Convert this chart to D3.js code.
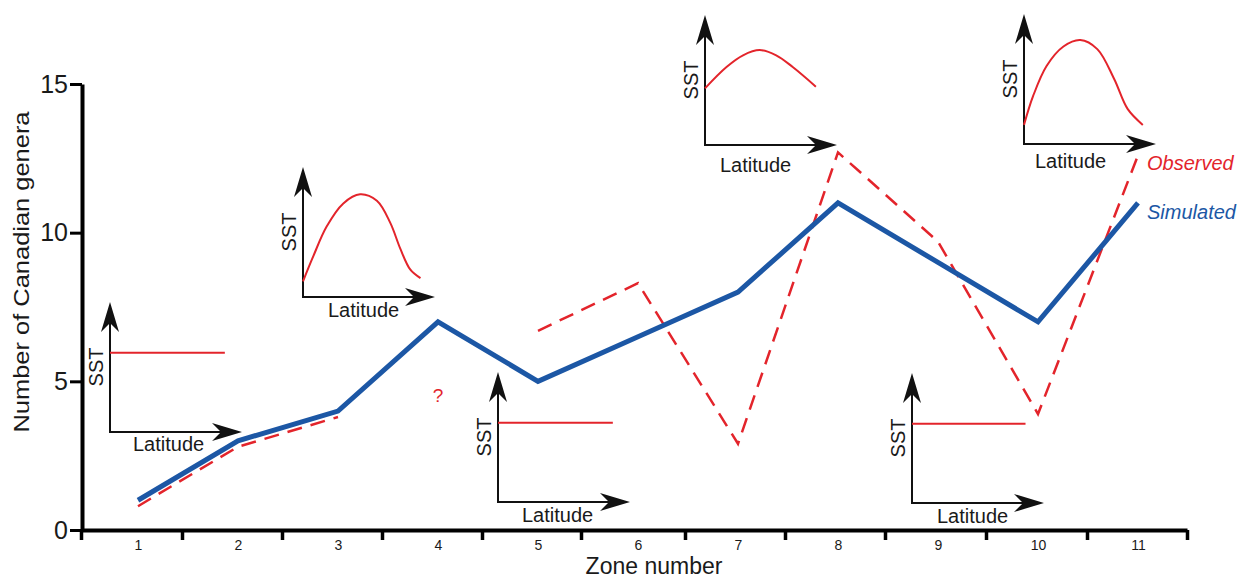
<!DOCTYPE html>
<html>
<head>
<meta charset="utf-8">
<script src="https://cdn.jsdelivr.net/npm/d3@7"></script>
<style>
body { margin: 0; background: #fff; }
text { font-family: "Liberation Sans", Arial, sans-serif; fill: #1a1a1a; }
</style>
</head>
<body>
<svg id="chart" width="1243" height="579"></svg>
<script>
// data
const zones = [1, 2, 3, 4, 5, 6, 7, 8, 9, 10, 11];
const simulated = [1, 3, 4, 7, 5, 6.5, 8, 11, 9, 7, 11];
const observed = [0.8, 2.8, 3.8, null, 6.7, 8.3, 2.9, 12.7, 9.7, 3.9, 12.6];
const yTicks = [0, 5, 10, 15];
// zone boundary ticks, as drawn (not quite evenly spaced)
const zoneEdges = [0.43, 1.44, 2.44, 3.44, 4.44, 5.43, 6.47, 7.47, 8.47, 9.48, 10.49, 11.49];

// SST-vs-latitude sketch profiles: [fraction along latitude, fraction of SST height]
const flatProfile = [[0, 0.61], [1, 0.61]];
const tallBell = [[0, 0.12], [0.086, 0.31], [0.2, 0.54], [0.343, 0.72], [0.486, 0.79], [0.629, 0.74], [0.743, 0.57], [0.829, 0.37], [0.914, 0.21], [1, 0.145]];
const lowHump = [[0, 0.436], [0.194, 0.6], [0.343, 0.69], [0.493, 0.73], [0.642, 0.69], [0.791, 0.6], [1, 0.449]];
const tallBell2 = [[0, 0.147], [0.077, 0.37], [0.19, 0.6], [0.332, 0.75], [0.474, 0.8], [0.617, 0.73], [0.759, 0.5], [0.872, 0.27], [1, 0.147]];

const insets = [
  { ox: 110, oy: 432, profile: flatProfile, span: 0.87, latDx: 23, latDy: 19 },
  { ox: 303, oy: 297, profile: tallBell, span: 0.89, latDx: 25, latDy: 20 },
  { ox: 498, oy: 502, profile: flatProfile, span: 0.87, latDx: 24, latDy: 20 },
  { ox: 705, oy: 145, profile: lowHump, span: 0.84, latDx: 15, latDy: 27 },
  { ox: 912, oy: 503, profile: flatProfile, span: 0.86, latDx: 25, latDy: 20 },
  { ox: 1024, oy: 144, profile: tallBell2, span: 0.9, latDx: 11, latDy: 24 }
];

const red = "#e3242b", blue = "#1c57a5";
const svg = d3.select("#chart");
svg.append("rect").attr("width", 1243).attr("height", 579).attr("fill", "#fff");

const x = d3.scaleLinear().domain([0.43, 11.49]).range([81, 1187]);
const y = d3.scaleLinear().domain([0, 15]).range([530, 84]);

// insets first so the data lines sit on top
const iw = 132, ih = 130, aL = 30, aW = 9, aN = 9;
insets.forEach(inset => {
  const g = svg.append("g").attr("transform", `translate(${inset.ox},${inset.oy})`);
  g.append("path")
    .attr("d", `M0,${-ih + aL - aN}V0H${iw - aL + aN}`)
    .attr("fill", "none").attr("stroke", "#111").attr("stroke-width", 2);
  g.append("path")
    .attr("d", `M0,${-ih}L${-aW},${-ih + aL}L0,${-ih + aL - aN}L${aW},${-ih + aL}Z`)
    .attr("fill", "#111");
  g.append("path")
    .attr("d", `M${iw},0L${iw - aL},${-aW}L${iw - aL + aN},0L${iw - aL},${aW}Z`)
    .attr("fill", "#111");
  const line = d3.line()
    .x(d => d[0] * inset.span * iw)
    .y(d => -d[1] * ih)
    .curve(d3.curveCatmullRom.alpha(0.5));
  g.append("path")
    .attr("d", line(inset.profile))
    .attr("fill", "none").attr("stroke", red).attr("stroke-width", 2);
  g.append("text")
    .attr("transform", `translate(-7,${-ih / 2}) rotate(-90)`)
    .attr("text-anchor", "middle")
    .style("font-size", "20px")
    .text("SST");
  g.append("text")
    .attr("x", inset.latDx).attr("y", inset.latDy)
    .style("font-size", "20px")
    .text("Latitude");
});

// y axis
const yAxis = svg.append("g").attr("transform", "translate(82,0)")
  .call(d3.axisLeft(y).tickValues(yTicks).tickSize(12).tickSizeOuter(0).tickPadding(2));
yAxis.select(".domain").attr("stroke", "#000").attr("stroke-width", 4);
yAxis.selectAll(".tick line").attr("stroke", "#000").attr("stroke-width", 3);
yAxis.selectAll(".tick text").style("font-size", "25px").attr("fill", "#1a1a1a");

// x axis: ticks at zone edges, labels at zone centres
const xAxis = svg.append("g").attr("transform", "translate(0,530)")
  .call(d3.axisBottom(x).tickValues(zoneEdges).tickFormat("").tickSize(10).tickSizeOuter(0));
xAxis.select(".domain").attr("stroke", "#000").attr("stroke-width", 4);
xAxis.selectAll(".tick line").attr("stroke", "#000").attr("stroke-width", 3.5);

const xLabels = svg.append("g").attr("transform", "translate(0,530)")
  .call(d3.axisBottom(x).tickValues(zones).tickFormat(d3.format("d")).tickSize(0).tickPadding(10));
xLabels.select(".domain").remove();
xLabels.selectAll(".tick text").style("font-size", "14px").attr("fill", "#1a1a1a");

// axis titles
svg.append("text")
  .attr("transform", "translate(29,272) rotate(-90)")
  .attr("text-anchor", "middle")
  .attr("textLength", 321).attr("lengthAdjust", "spacingAndGlyphs")
  .style("font-size", "22px")
  .text("Number of Canadian genera");
svg.append("text")
  .attr("x", 654).attr("y", 574)
  .attr("text-anchor", "middle")
  .style("font-size", "23px")
  .text("Zone number");

// data lines
const line = d3.line()
  .defined(d => d[1] != null)
  .x(d => x(d[0]))
  .y(d => y(d[1]));

svg.append("path")
  .attr("d", line(zones.map((z, i) => [z, observed[i]])))
  .attr("fill", "none").attr("stroke", red).attr("stroke-width", 2.5)
  .attr("stroke-dasharray", "15,9");

svg.append("path")
  .attr("d", line(zones.map((z, i) => [z, simulated[i]])))
  .attr("fill", "none").attr("stroke", blue).attr("stroke-width", 5)
  .attr("stroke-linejoin", "miter");

// question mark for the missing zone-4 observation
svg.append("text")
  .attr("x", x(4)).attr("y", y(4.3))
  .attr("text-anchor", "middle")
  .style("font-size", "19px").style("fill", red)
  .text("?");

// series labels at the line ends
const last = zones.length - 1;
svg.append("text")
  .attr("x", x(zones[last]) + 9).attr("y", y(observed[last]) + 15)
  .style("font-size", "20px").style("font-style", "italic").style("fill", red)
  .text("Observed");
svg.append("text")
  .attr("x", x(zones[last]) + 9).attr("y", y(simulated[last]) + 16)
  .style("font-size", "20px").style("font-style", "italic").style("fill", blue)
  .text("Simulated");
</script>
</body>
</html>
